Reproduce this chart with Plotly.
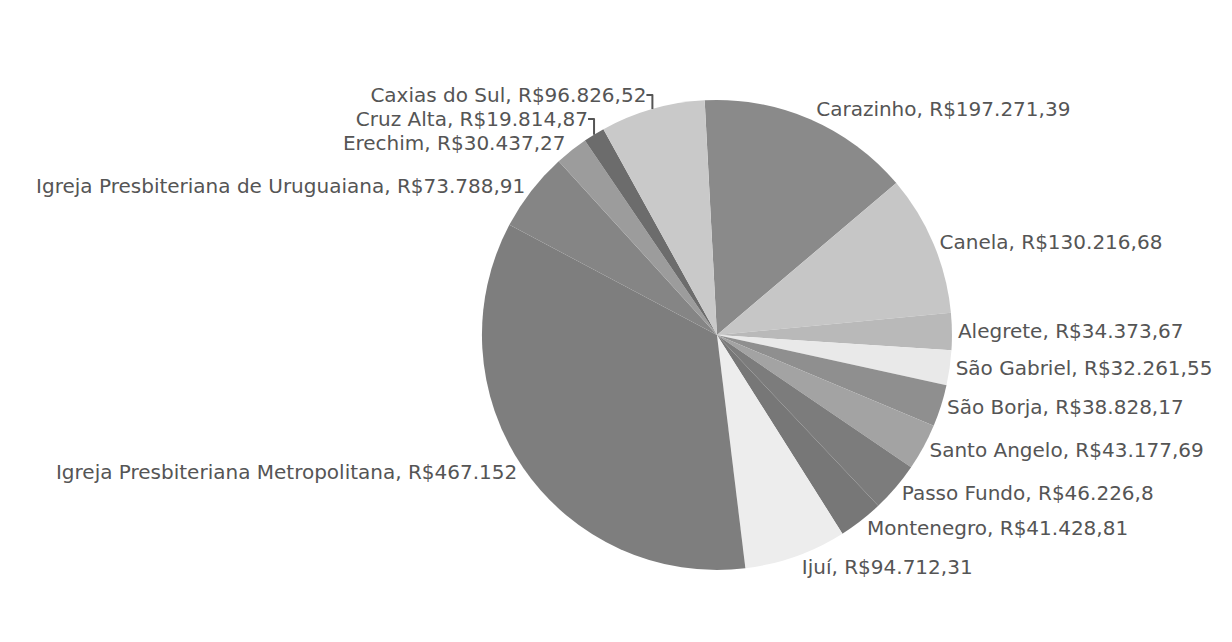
import plotly.graph_objects as go

categories = [
    "Carazinho", "Canela", "Alegrete", "São Gabriel", "São Borja",
    "Santo Angelo", "Passo Fundo", "Montenegro", "Ijuí",
    "Igreja Presbiteriana Metropolitana",
    "Igreja Presbiteriana de Uruguaiana", "Erechim", "Cruz Alta",
    "Caxias do Sul",
]
values = [
    197271.39, 130216.68, 34373.67, 32261.55, 38828.17,
    43177.69, 46226.8, 41428.81, 94712.31,
    467152,
    73788.91, 30437.27, 19814.87,
    96826.52,
]
colors = [
    "#8a8a8a", "#c6c6c6", "#b9b9b9", "#e9e9e9", "#8f8f8f",
    "#a3a3a3", "#7c7c7c", "#777777", "#ededed",
    "#7e7e7e",
    "#858585", "#9c9c9c", "#6c6c6c",
    "#c9c9c9",
]


def brl(v):
    s = f"{v:,.2f}".rstrip("0").rstrip(".")
    if "." in s:
        ip, dp = s.split(".")
    else:
        ip, dp = s, ""
    ip = ip.replace(",", ".")
    return ip + ("," + dp if dp else "")


labels_txt = [f"{c}, R${brl(v)}" for c, v in zip(categories, values)]

fig = go.Figure(
    go.Pie(
        labels=categories,
        values=values,
        text=labels_txt,
        textinfo="text",
        textposition="outside",
        sort=False,
        direction="clockwise",
        rotation=-3,
        marker=dict(colors=colors, line=dict(width=0)),
        textfont=dict(family="DejaVu Sans", size=20, color="#555555"),
        showlegend=False,
        domain=dict(x=[0.3847, 0.7662], y=[0.1247, 0.8568]),
        hoverinfo="label+value+percent",
    )
)

fig.update_layout(
    width=1232,
    height=642,
    margin=dict(l=0, r=0, t=0, b=0),
    paper_bgcolor="white",
    plot_bgcolor="white",
)

fig.write_html("out.html")
